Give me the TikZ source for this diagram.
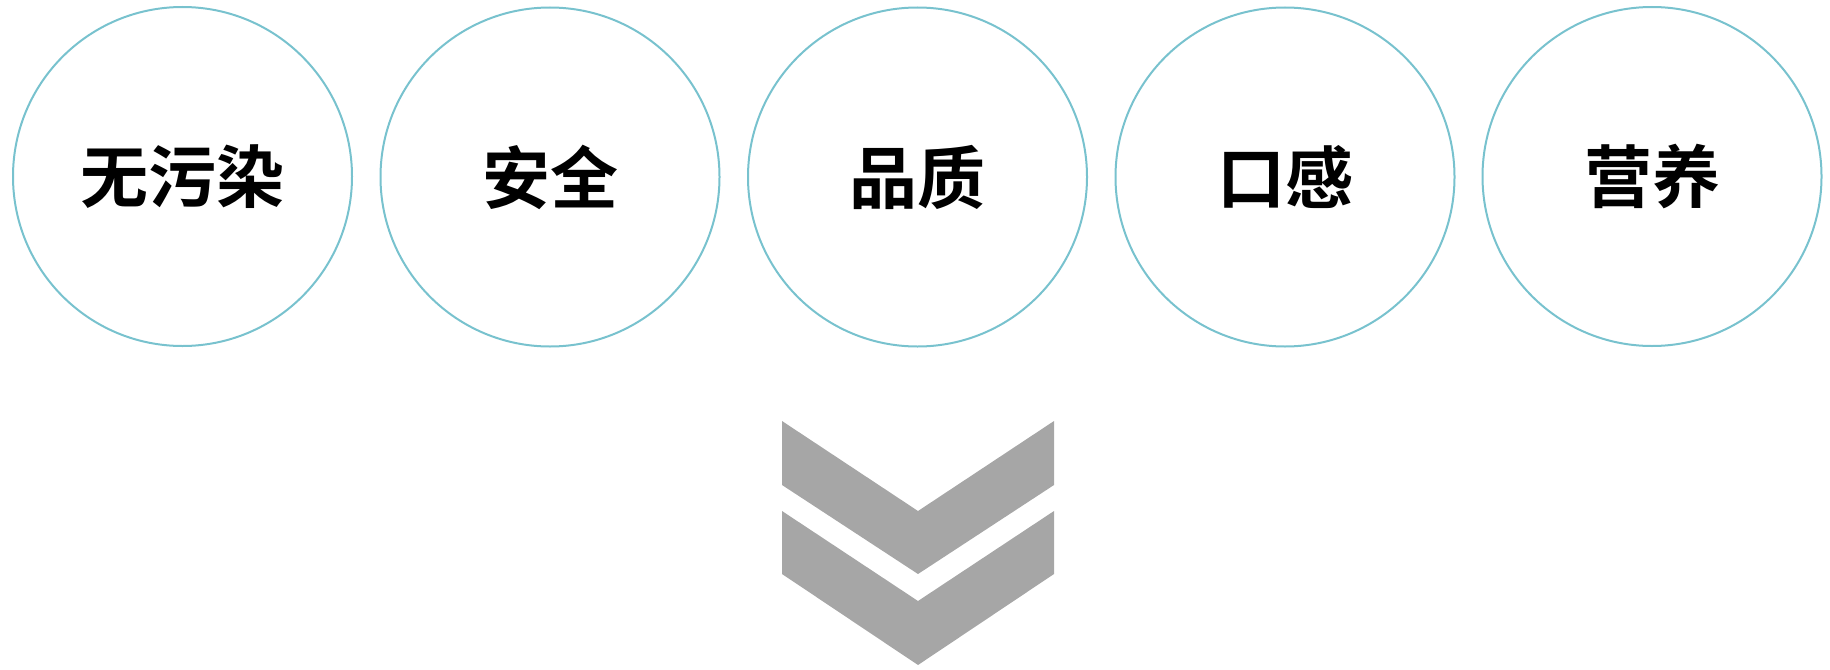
\documentclass[tikz,border=0pt]{standalone}
\usepackage{fontspec}
\newfontfamily\cjk{Noto Sans CJK SC}[BoldFont={* Bold}]
\definecolor{ringc}{HTML}{78C2CE}
\definecolor{chev}{HTML}{A6A6A6}
\begin{document}
\begin{tikzpicture}[x=1pt,y=-1pt,
  ring/.style={circle,draw=ringc,line width=2pt,minimum size=339pt,inner sep=0pt,
    font=\cjk\bfseries\fontsize{68}{68}\selectfont},
  chevshape/.style={fill=chev,draw=none}]
\path[use as bounding box] (0,0) rectangle (1830,669);
\node[ring] (c1) at (182.5,176.5) {无污染};
\node[ring] (c2) at (550,177) {安全};
\node[ring] (c3) at (917.5,177) {品质};
\node[ring] (c4) at (1285,177) {口感};
\node[ring] (c5) at (1652,176.5) {营养};
\fill[chevshape] (782,421) -- (918,511) -- (1054,421) -- (1054,485) -- (918,574) -- (782,485) -- cycle;
\fill[chevshape] (782,511) -- (918,601) -- (1054,511) -- (1054,574) -- (918,665) -- (782,574) -- cycle;
\end{tikzpicture}
\end{document}
